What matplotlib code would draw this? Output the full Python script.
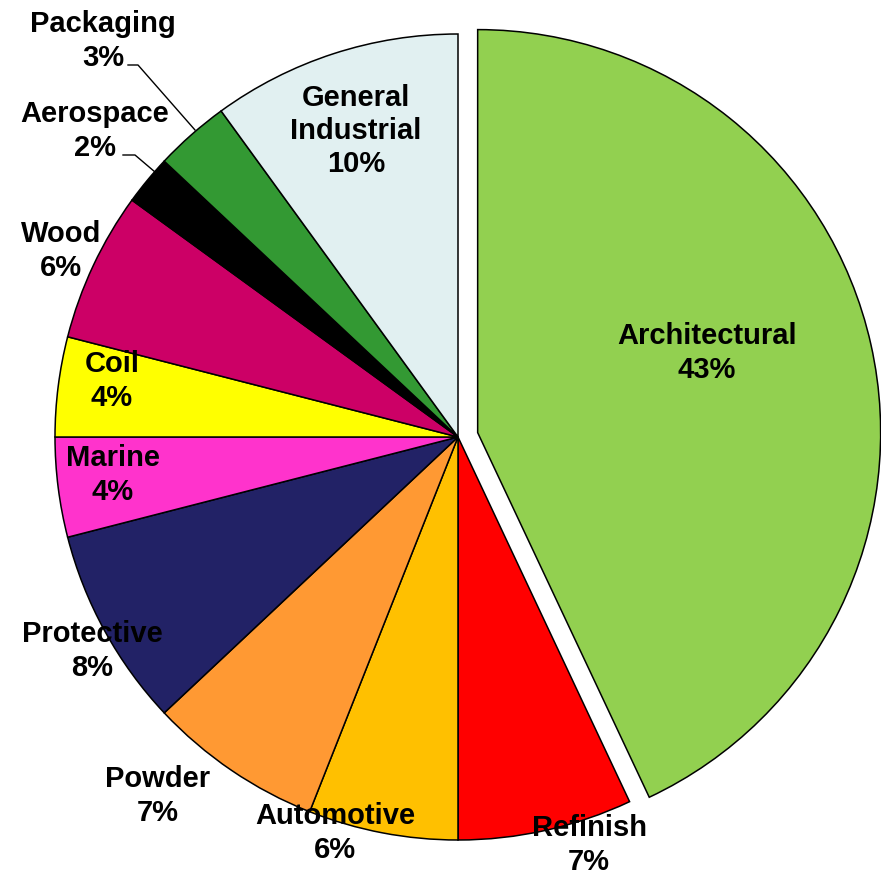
import matplotlib
matplotlib.use("Agg")
import matplotlib.pyplot as plt

categories = ["Architectural", "Refinish", "Automotive", "Powder", "Protective",
              "Marine", "Coil", "Wood", "Aerospace", "Packaging", "General\nIndustrial"]
shares = [43, 7, 6, 7, 8, 4, 4, 6, 2, 3, 10]
colors = ["#92D050", "#FF0000", "#FFC000", "#FF9933", "#222266",
          "#FF33CC", "#FFFF00", "#CC0066", "#000000", "#339933", "#E1F0F1"]
explode = [0.05] + [0.0] * (len(shares) - 1)

W, H = 881, 876
CX, CY, R = 458, 437, 403  # pie centre and radius in pixels


def px(x, y):
    return (x - CX) / R, (CY - y) / R


# label block centres (pixel space)
label_pos = [(707, 353), (589, 845), (335, 833), (158, 796), (92, 651),
             (113, 475), (112, 381), (61, 251), (95, 131), (103, 41), (356, 131)]

fig = plt.figure(figsize=(W / 100, H / 100), dpi=100)
ax = fig.add_axes([0, 0, 1, 1])
ax.pie(shares, colors=colors, explode=explode, startangle=90, counterclock=False,
       radius=1.0, wedgeprops=dict(edgecolor="black", linewidth=1.1))

x0, y0 = px(0, H)
x1, y1 = px(W, 0)
ax.set_xlim(x0, x1)
ax.set_ylim(y0, y1)
ax.set_aspect("equal")
ax.axis("off")

for cat, val, (lx, ly) in zip(categories, shares, label_pos):
    tx, ty = px(lx, ly)
    ax.text(tx, ty, f"{cat}\n{val}%", ha="center", va="center",
            fontsize=21, fontweight="bold", family=["Liberation Sans", "DejaVu Sans"],
            linespacing=1.25, color="black")

# leader lines for the two thin slices
for pts in ([(128, 65), (138, 65), (195, 130)], [(123, 155), (135, 155), (155, 172)]):
    xs, ys = zip(*[px(a, b) for a, b in pts])
    ax.plot(xs, ys, color="black", linewidth=1.0)

fig.savefig("out.png", dpi=100, facecolor="white")
